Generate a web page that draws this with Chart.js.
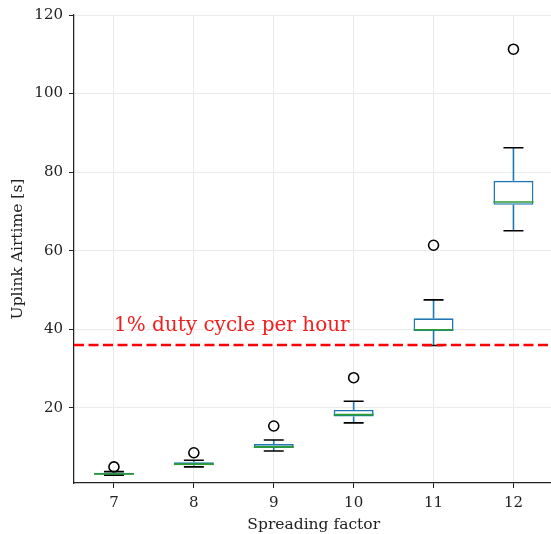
<!DOCTYPE html>
<html>
<head>
<meta charset="utf-8">
<script src="https://cdn.jsdelivr.net/npm/chart.js@4"></script>
<style>
  html, body { margin: 0; padding: 0; background: #fff; overflow: hidden; }
  #wrap { width: 560px; height: 534px; }
</style>
</head>
<body>
<div id="wrap"><canvas id="boxChart"></canvas></div>
<script>
// Spreading factors and box statistics (seconds of uplink airtime)
const factors = ["7", "8", "9", "10", "11", "12"];
const whiskerLow = [2.9, 5.0, 9.05, 16.2, 35.9, 65.1];
const q1 = [3.0, 5.4, 9.8, 17.8, 39.6, 71.7];
const medians = [3.2, 5.7, 10.1, 18.3, 39.9, 72.4];
const q3 = [3.5, 6.2, 10.8, 19.5, 42.8, 77.8];
const whiskerHigh = [3.8, 6.7, 11.85, 21.7, 47.5, 86.2];
const outliers = [5.0, 8.6, 15.4, 27.7, 61.4, 111.3];
const yTicks = [20, 40, 60, 80, 100, 120];
const dutyLimit = 36;
const dutyLabel = "1% duty cycle per hour";

const serif = "'DejaVu Serif', 'Liberation Serif', serif";

// draws whiskers, caps, medians, the duty cycle line and its label
const boxExtras = {
  id: "boxExtras",
  afterDatasetsDraw(chart) {
    const { ctx, chartArea, scales: { x, y } } = chart;
    const step = x.getPixelForValue(1) - x.getPixelForValue(0);
    ctx.save();
    factors.forEach((f, i) => {
      const cx = x.getPixelForValue(i);
      // whiskers
      ctx.strokeStyle = "#1f77b4";
      ctx.lineWidth = 1.6;
      ctx.beginPath();
      ctx.moveTo(cx, y.getPixelForValue(q1[i]));
      ctx.lineTo(cx, y.getPixelForValue(whiskerLow[i]));
      ctx.moveTo(cx, y.getPixelForValue(q3[i]));
      ctx.lineTo(cx, y.getPixelForValue(whiskerHigh[i]));
      ctx.stroke();
      // caps
      ctx.strokeStyle = "#000";
      ctx.beginPath();
      [whiskerLow[i], whiskerHigh[i]].forEach(v => {
        const py = y.getPixelForValue(v);
        ctx.moveTo(cx - step * 0.125, py);
        ctx.lineTo(cx + step * 0.125, py);
      });
      ctx.stroke();
      // median
      ctx.strokeStyle = "#2ca02c";
      ctx.beginPath();
      const my = y.getPixelForValue(medians[i]);
      ctx.moveTo(cx - step * 0.25, my);
      ctx.lineTo(cx + step * 0.25, my);
      ctx.stroke();
    });
    // duty cycle limit
    const dy = y.getPixelForValue(dutyLimit);
    ctx.strokeStyle = "#ff0000";
    ctx.lineWidth = 2.5;
    ctx.setLineDash([10, 4.5]);
    ctx.beginPath();
    ctx.moveTo(chartArea.left, dy);
    ctx.lineTo(chartArea.right, dy);
    ctx.stroke();
    ctx.setLineDash([]);
    ctx.fillStyle = "#f02020";
    ctx.font = "20px " + serif;
    ctx.textAlign = "left";
    ctx.textBaseline = "alphabetic";
    ctx.fillText(dutyLabel, x.getPixelForValue(0), y.getPixelForValue(39.6));
    ctx.restore();
  }
};

new Chart(document.getElementById("boxChart").getContext("2d"), {
  type: "bar",
  data: {
    labels: factors,
    datasets: [
      {
        label: "box",
        data: factors.map((f, i) => [q1[i], q3[i]]),
        backgroundColor: "#ffffff",
        borderColor: "#1f77b4",
        borderWidth: 1.6,
        borderSkipped: false,
        categoryPercentage: 1.0,
        barPercentage: 0.5
      },
      {
        type: "line",
        label: "outliers",
        data: outliers,
        showLine: false,
        pointStyle: "circle",
        pointRadius: 5,
        pointBorderWidth: 1.6,
        pointBorderColor: "#000",
        pointBackgroundColor: "rgba(0,0,0,0)"
      }
    ]
  },
  options: {
    responsive: true,
    maintainAspectRatio: false,
    animation: false,
    layout: { padding: { top: 15, right: 6, left: 0, bottom: 0 } },
    plugins: {
      legend: { display: false },
      tooltip: { enabled: false }
    },
    scales: {
      x: {
        offset: true,
        grid: { offset: false, color: "#ebebeb", tickColor: "#222", tickLength: 5 },
        border: { color: "#222", width: 1.25 },
        ticks: { color: "#222", padding: 6, font: { family: serif, size: 15 } },
        title: {
          display: true,
          text: "Spreading factor",
          color: "#222",
          padding: { top: 0, bottom: 0 },
          font: { family: serif, size: 15.5 }
        },
        afterFit(scale) { scale.height = 51; }
      },
      y: {
        min: 0.9,
        max: 120,
        grid: { color: "#ebebeb", tickColor: "#222", tickLength: 5 },
        border: { color: "#222", width: 1.25 },
        ticks: { color: "#222", padding: 6, font: { family: serif, size: 15 } },
        afterBuildTicks(scale) { scale.ticks = yTicks.map(v => ({ value: v })); },
        title: {
          display: true,
          text: "Uplink Airtime [s]",
          color: "#222",
          padding: { top: 9, bottom: 0 },
          font: { family: serif, size: 15.5 }
        },
        afterFit(scale) { scale.width = 74; }
      }
    }
  },
  plugins: [boxExtras]
});
</script>
</body>
</html>
